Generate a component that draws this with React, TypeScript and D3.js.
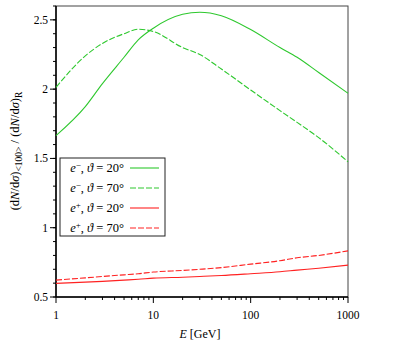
import React, { useEffect, useRef } from 'react';
import * as d3 from 'd3';

const energies = [1, 2, 3, 5, 7, 10, 20, 30, 50, 100, 200, 300, 500, 1000];
const eMinus20 = [1.665, 1.874, 2.04, 2.23, 2.356, 2.44, 2.54, 2.555, 2.53, 2.43, 2.3, 2.23, 2.12, 1.97];
const eMinus70 = [2.013, 2.24, 2.33, 2.4, 2.432, 2.416, 2.3, 2.25, 2.145, 1.994, 1.845, 1.76, 1.65, 1.476];
const ePlus20 = [0.598, 0.607, 0.613, 0.622, 0.628, 0.636, 0.643, 0.648, 0.655, 0.668, 0.682, 0.694, 0.708, 0.73];
const ePlus70 = [0.622, 0.638, 0.648, 0.66, 0.668, 0.68, 0.692, 0.7, 0.712, 0.737, 0.762, 0.783, 0.8, 0.833];
const xTicks = [1, 10, 100, 1000];
const yTicks = [0.5, 1, 1.5, 2, 2.5];

const series = [
  { sign: '−', angle: '20°', values: eMinus20, color: '#2ec82e', dash: null },
  { sign: '−', angle: '70°', values: eMinus70, color: '#2ec82e', dash: '6,2' },
  { sign: '+', angle: '20°', values: ePlus20, color: '#ff2222', dash: null },
  { sign: '+', angle: '70°', values: ePlus70, color: '#ff2222', dash: '6,2' },
];

const App = () => {
  const ref = useRef<SVGSVGElement>(null);

  useEffect(() => {
    const svg = d3.select(ref.current);
    svg.selectAll('*').remove();
    const left = 56, right = 348, top = 6, bottom = 297;

    const x = d3.scaleLog().domain([1, 1000]).range([left, right]);
    const y = d3.scaleLinear().domain([0.5, 2.6]).range([bottom, top]);

    // frame
    svg.append('rect')
      .attr('x', left).attr('y', top)
      .attr('width', right - left).attr('height', bottom - top)
      .attr('fill', 'none').attr('stroke', '#444').attr('stroke-width', 1);

    // x axis ticks
    const xMinor: number[] = [];
    for (let p = 1; p < 1000; p *= 10) for (let k = 2; k < 10; k++) xMinor.push(p * k);
    const gx = svg.append('g');
    gx.selectAll('.xm').data(xMinor).enter().append('line')
      .attr('x1', d => x(d)).attr('x2', d => x(d))
      .attr('y1', bottom).attr('y2', bottom + 3).attr('stroke', '#000');
    gx.selectAll('.xM').data(xTicks).enter().append('line')
      .attr('x1', d => x(d)).attr('x2', d => x(d))
      .attr('y1', bottom).attr('y2', bottom + 6).attr('stroke', '#000');
    gx.selectAll('text').data(xTicks).enter().append('text')
      .attr('x', d => x(d)).attr('y', bottom + 22)
      .attr('text-anchor', 'middle').attr('font-size', 11.5)
      .text(d => String(d));

    // y axis ticks
    const yMinor = d3.range(5, 27).map(d => d / 10);
    const gy = svg.append('g');
    gy.selectAll('.ym').data(yMinor).enter().append('line')
      .attr('x1', left - 3).attr('x2', left)
      .attr('y1', d => y(d)).attr('y2', d => y(d)).attr('stroke', '#000');
    gy.selectAll('.yM').data(yTicks).enter().append('line')
      .attr('x1', left - 6).attr('x2', left)
      .attr('y1', d => y(d)).attr('y2', d => y(d)).attr('stroke', '#000');
    gy.selectAll('text').data(yTicks).enter().append('text')
      .attr('x', left - 8).attr('y', d => y(d) + 4)
      .attr('text-anchor', 'end').attr('font-size', 11.5)
      .text(d => String(d));

    svg.append('line').attr('x1', left).attr('x2', right).attr('y1', bottom).attr('y2', bottom)
      .attr('stroke', '#000').attr('stroke-width', 1.5);
    svg.append('line').attr('x1', left).attr('x2', left).attr('y1', top).attr('y2', bottom)
      .attr('stroke', '#000').attr('stroke-width', 1.5);

    // curves
    const line = d3.line<number>()
      .x((_, i) => x(energies[i]))
      .y(d => y(d))
      .curve(d3.curveMonotoneX);
    series.forEach(s => {
      svg.append('path')
        .attr('d', line(s.values))
        .attr('fill', 'none')
        .attr('stroke', s.color)
        .attr('stroke-width', 1.1)
        .attr('stroke-dasharray', s.dash);
    });

    // axis labels
    const xl = svg.append('text')
      .attr('x', 200).attr('y', 338).attr('text-anchor', 'middle')
      .attr('font-size', 12);
    xl.append('tspan').attr('font-style', 'italic').text('E');
    xl.append('tspan').text(' [GeV]');

    const yl = svg.append('text')
      .attr('transform', 'translate(19,151) rotate(-90)')
      .attr('text-anchor', 'middle')
      .attr('font-size', 12.5);
    yl.append('tspan').text('(d');
    yl.append('tspan').attr('font-style', 'italic').text('N');
    yl.append('tspan').text('/d');
    yl.append('tspan').attr('font-style', 'italic').text('σ');
    yl.append('tspan').text(')');
    yl.append('tspan').attr('font-size', 9.5).attr('baseline-shift', '-25%').text('<100>');
    yl.append('tspan').text(' / (d');
    yl.append('tspan').attr('font-style', 'italic').text('N');
    yl.append('tspan').text('/d');
    yl.append('tspan').attr('font-style', 'italic').text('σ');
    yl.append('tspan').text(')');
    yl.append('tspan').attr('font-size', 9.5).attr('baseline-shift', '-25%').text('R');

    // legend
    const lg = svg.append('g');
    lg.append('rect').attr('x', 60).attr('y', 158).attr('width', 105).attr('height', 78)
      .attr('fill', '#fff').attr('stroke', '#222').attr('stroke-width', 1);
    series.forEach((s, i) => {
      const ry = 172 + i * 20;
      const t = lg.append('text').attr('x', 124).attr('y', ry)
        .attr('text-anchor', 'end').attr('font-size', 12.5);
      t.append('tspan').attr('font-style', 'italic').text('e');
      t.append('tspan').attr('font-size', 9).attr('baseline-shift', '45%').text(s.sign);
      t.append('tspan').text(', ');
      t.append('tspan').attr('font-style', 'italic').text('ϑ');
      t.append('tspan').text(' = ' + s.angle);
      lg.append('line').attr('x1', 130).attr('x2', 159).attr('y1', ry - 4).attr('y2', ry - 4)
        .attr('stroke', s.color).attr('stroke-width', 1.1)
        .attr('stroke-dasharray', s.dash);
    });
  }, []);

  return (
    <svg ref={ref} width={397} height={347}
      style={{ position: 'absolute', left: 0, top: 0, background: '#fff', fontFamily: 'Liberation Serif' }} />
  );
};

export default App;
